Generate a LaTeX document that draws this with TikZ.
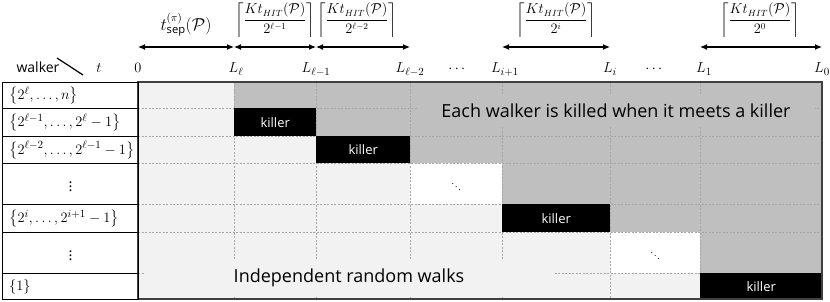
\documentclass[tikz,border=0pt]{standalone}
\usepackage{amsmath}
\usepackage{fontspec}
\setmainfont{Open Sans}
\usetikzlibrary{arrows.meta}
\definecolor{lightcell}{HTML}{F2F2F2}
\definecolor{graycell}{HTML}{BFBFBF}
\definecolor{gridc}{HTML}{A6A6A6}
\definecolor{borderc}{HTML}{404040}
\tikzset{
  gridline/.style={draw=gridc, line width=0.7pt, dash pattern=on 2pt off 1.5pt},
  killerbox/.style={fill=black, text=white, font=\fontsize{13}{15}\selectfont, inner sep=0pt, anchor=north west},
  whitebox/.style={fill=white, inner sep=0pt, anchor=north west},
  rowlab/.style={draw=black, line width=1.4pt, inner sep=0pt, anchor=north west, minimum width=136pt},
  axislab/.style={font=\fontsize{15}{17}\selectfont, anchor=base},
  rowtext/.style={font=\fontsize{15}{17}\selectfont, inner sep=0pt},
  hdr/.style={font=\fontsize{13.5}{16}\selectfont, inner sep=0pt},
  spanarrow/.style={{Latex[length=7pt,width=6pt]}-{Latex[length=7pt,width=6pt]}, line width=1.2pt},
  bigtext/.style={font=\fontsize{18}{21}\selectfont, inner sep=0pt}
}
\begin{document}
\begin{tikzpicture}[x=1pt,y=-1pt]
\useasboundingbox (0,0) rectangle (830,302);
% background fills
\fill[lightcell] (138,82) rectangle (822,299);
\fill[graycell] (234,82) -- (822,82) -- (822,299) -- (700,299) -- (700,232) -- (610,232)
  -- (610,204) -- (502,204) -- (502,163) -- (410,163) -- (410,136) -- (316,136)
  -- (316,108) -- (234,108) -- cycle;
% white cells
\node[whitebox, minimum width=92pt, minimum height=41pt] (w1) at (410,163) {};
\node[whitebox, minimum width=90pt, minimum height=41pt] (w2) at (610,232) {};
\node[font=\fontsize{9}{10}\selectfont] (d1) at (w1.center) {$\ddots$};
\node[font=\fontsize{9}{10}\selectfont] (d2) at (w2.center) {$\ddots$};
% dashed grid
\foreach \xx in {234,316,410,502,610,700}
  \draw[gridline] (\xx,82) -- (\xx,299);
\foreach \yy in {108,136,163,204,232,273}
  \draw[gridline] (138,\yy) -- (822,\yy);
% killers
\node[killerbox, minimum width=82pt, minimum height=28pt] (k1) at (234,108) {killer};
\node[killerbox, minimum width=94pt, minimum height=27pt] (k2) at (316,136) {killer};
\node[killerbox, minimum width=108pt, minimum height=28pt] (k3) at (502,204) {killer};
\node[killerbox, minimum width=122pt, minimum height=26pt] (k4) at (700,273) {killer};
% big texts
\node[bigtext, fill=graycell, minimum width=398pt, minimum height=33pt] (each) at (616,111) {Each walker is killed when it meets a killer};
\node[bigtext, fill=lightcell, minimum width=408pt, minimum height=38pt] (indep) at (349,278) {Independent random walks};
% outer border
\draw[borderc, line width=1.2pt] (138,82) rectangle (822,299);
% row labels
\node[rowlab, minimum height=26pt] (r1) at (2,82) {};
\node[rowlab, minimum height=28pt] (r2) at (2,108) {};
\node[rowlab, minimum height=27pt] (r3) at (2,136) {};
\node[rowlab, minimum height=41pt] (r4) at (2,163) {};
\node[rowlab, minimum height=28pt] (r5) at (2,204) {};
\node[rowlab, minimum height=41pt] (r6) at (2,232) {};
\node[rowlab, minimum height=26pt] (r7) at (2,273) {};
\node[rowtext, anchor=west] (t1) at ([xshift=7pt]r1.west) {$\bigl\{2^{\ell},\ldots,n\bigr\}$};
\node[rowtext, anchor=west] (t2) at ([xshift=7pt]r2.west) {$\bigl\{2^{\ell-1},\ldots,2^{\ell}-1\bigr\}$};
\node[rowtext, anchor=west] (t3) at ([xshift=7pt]r3.west) {$\bigl\{2^{\ell-2},\ldots,2^{\ell-1}-1\bigr\}$};
\node[rowtext] (t4) at (r4.center) {$\vdots$};
\node[rowtext, anchor=west] (t5) at ([xshift=7pt]r5.west) {$\bigl\{2^{i},\ldots,2^{i+1}-1\bigr\}$};
\node[rowtext] (t6) at (r6.center) {$\vdots$};
\node[rowtext, anchor=west] (t7) at ([xshift=7pt]r7.west) {$\{1\}$};
% axis labels
\node[axislab, font=\fontsize{14}{16}\selectfont] (walker) at (38,73) {walker};
\coordinate (s1) at (57,58);
\coordinate (s2) at (83,75);
\draw[line width=1.2pt] (s1) -- (s2);
\node[axislab] (tlab) at (99,73) {$t$};
\node[axislab] (l0) at (138,73) {$0$};
\node[axislab] (l1) at (236,73) {$L_{\ell}$};
\node[axislab] (l2) at (316,73) {$L_{\ell-1}$};
\node[axislab] (l3) at (410,73) {$L_{\ell-2}$};
\node[axislab] (dots1) at (458,73) {$\cdots$};
\node[axislab] (l4) at (505,73) {$L_{i+1}$};
\node[axislab] (l5) at (610,73) {$L_{i}$};
\node[axislab] (dots2) at (655,73) {$\cdots$};
\node[axislab] (l6) at (704,73) {$L_{1}$};
\node[axislab] (l7) at (822,73) {$L_{0}$};
% span arrows
\coordinate (a1) at (138,47);
\coordinate (a2) at (234,47);
\coordinate (a3) at (316,47);
\coordinate (a4) at (410,47);
\coordinate (a5) at (502,47);
\coordinate (a6) at (610,47);
\coordinate (a7) at (700,47);
\coordinate (a8) at (822,47);
\draw[spanarrow] (a1) -- (a2);
\draw[spanarrow] (a2) -- (a3);
\draw[spanarrow] (a3) -- (a4);
\draw[spanarrow] (a5) -- (a6);
\draw[spanarrow] (a7) -- (a8);
% header formulas
\node[hdr, font=\fontsize{16}{18}\selectfont] (h1) at (186,25) {$t^{(\pi)}_{\mathrm{sep}}(\mathcal{P})$};
\node[hdr] (h2) at (275,20) {$\left\lceil\dfrac{K t_{HIT}(\mathcal{P})}{2^{\ell-1}}\right\rceil$};
\node[hdr] (h3) at (357,20) {$\left\lceil\dfrac{K t_{HIT}(\mathcal{P})}{2^{\ell-2}}\right\rceil$};
\node[hdr] (h4) at (556,20) {$\left\lceil\dfrac{K t_{HIT}(\mathcal{P})}{2^{i}}\right\rceil$};
\node[hdr] (h5) at (760,20) {$\left\lceil\dfrac{K t_{HIT}(\mathcal{P})}{2^{0}}\right\rceil$};
\end{tikzpicture}
\end{document}
